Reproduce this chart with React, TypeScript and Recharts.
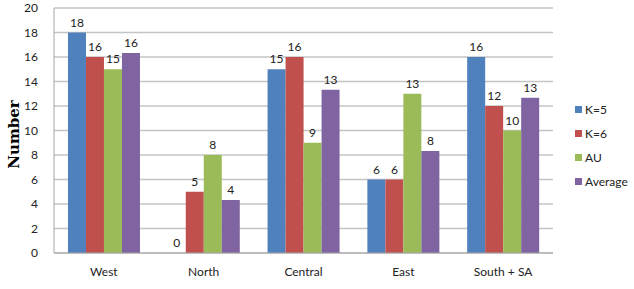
import React from "react";
import { BarChart, Bar, XAxis, YAxis, CartesianGrid, LabelList } from "recharts";

const regions = ["West", "North", "Central", "East", "South + SA"];
const k5 = [18, 0, 15, 6, 16];
const k6 = [16, 5, 16, 6, 12];
const au = [15, 8, 9, 13, 10];
const average = [16.33, 4.33, 13.33, 8.33, 12.67];
const yTicks = [0, 2, 4, 6, 8, 10, 12, 14, 16, 18, 20];

const series = [
  { key: "k5", name: "K=5", color: "#4F81BD" },
  { key: "k6", name: "K=6", color: "#C0504D" },
  { key: "au", name: "AU", color: "#9BBB59" },
  { key: "avg", name: "Average", color: "#8064A2" },
];

const data = regions.map((region, i) => ({
  region,
  k5: k5[i],
  k6: k6[i],
  au: au[i],
  avg: average[i],
}));

const font = "Lato, 'Open Sans', sans-serif";

export default function App() {
  return (
    <div style={{ position: "absolute", left: 0, top: 0, width: 634, height: 289, background: "#fff", fontFamily: font }}>
      <BarChart
        width={634}
        height={289}
        data={data}
        margin={{ top: 8, right: 81, left: 0, bottom: 0 }}
        barCategoryGap="14%"
        barGap={0}
      >
        <CartesianGrid vertical={false} stroke="#C4C4C4" strokeWidth={1.5} />
        <XAxis
          dataKey="region"
          height={36}
          tickLine={false}
          axisLine={{ stroke: "#A6A6A6" }}
          tick={{ fill: "#222", fontSize: 12, fontFamily: font }}
          tickMargin={8}
        />
        <YAxis
          width={54}
          domain={[0, 20]}
          ticks={yTicks}
          interval={0}
          tickLine={false}
          axisLine={{ stroke: "#A6A6A6" }}
          tick={{ fill: "#222", fontSize: 12, fontFamily: font }}
          tickMargin={10}
          label={{
            value: "Number",
            angle: -90,
            position: "insideLeft",
            offset: 14,
            dy: 4,
            style: { fontFamily: "'DejaVu Serif', 'Liberation Serif', serif", fontWeight: "bold", fontSize: 15, fill: "#000", textAnchor: "middle" },
          }}
        />
        {series.map((s) => (
          <Bar key={s.key} dataKey={s.key} name={s.name} fill={s.color} minPointSize={0.01} isAnimationActive={false}>
            <LabelList
              dataKey={s.key}
              position="top"
              offset={6}
              formatter={(v: any) => Math.round(Number(v))}
              style={{ fill: "#222", fontSize: 12, fontFamily: font }}
            />
          </Bar>
        ))}
      </BarChart>
      <div style={{ position: "absolute", left: 575, top: 97 }}>
        {series.map((s) => (
          <div key={s.key} style={{ display: "flex", alignItems: "center", height: 24, fontSize: 12, color: "#222" }}>
            <span style={{ width: 7, height: 7, background: s.color, marginRight: 3, display: "inline-block" }} />
            {s.name}
          </div>
        ))}
      </div>
    </div>
  );
}
